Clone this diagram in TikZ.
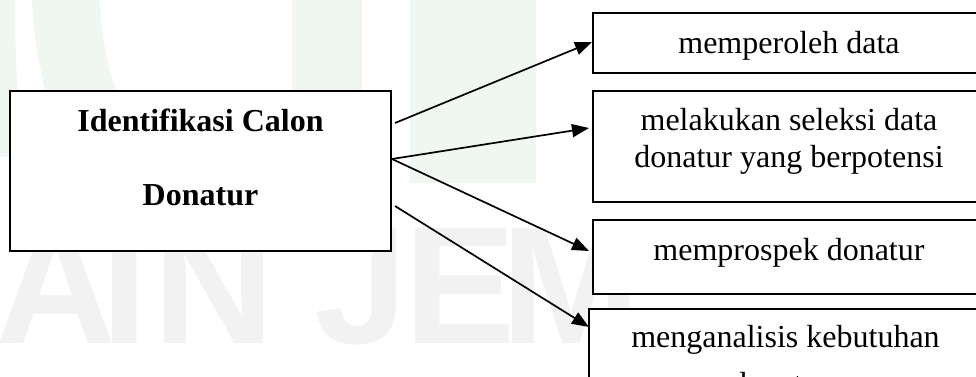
\documentclass[tikz,border=0pt]{standalone}
\usepackage{fontspec}
\setmainfont{Liberation Serif}
\newfontfamily\wmfont{Liberation Sans}
\usetikzlibrary{arrows.meta,fit}
\definecolor{wmgreen}{RGB}{239,247,240}
\definecolor{wmgray}{RGB}{242,242,242}
\tikzset{
  box/.style={draw=black, line width=1.1pt, fill=white, inner sep=0pt},
  txt/.style={anchor=base, inner sep=0pt, font=\fontsize{16pt}{18.5pt}\selectfont},
  btxt/.style={anchor=base, inner sep=0pt, font=\fontsize{16pt}{18.5pt}\selectfont\bfseries},
  conn/.style={line width=0.85pt, -{Triangle[length=8.5pt,width=6.5pt]}},
  wmletter/.style={anchor=base west, inner sep=0pt, text=wmgray, font=\wmfont\bfseries\fontsize{83.8pt}{84pt}\selectfont},
}
\begin{document}
\begin{tikzpicture}[x=0.5pt,y=-0.5pt]
\useasboundingbox (0,0) rectangle (976,376);
\clip (0,0) rectangle (976,376);
\fill[white] (0,0) rectangle (976,376);
% faint watermark
\fill[wmgreen] (0,0) -- (15,0) .. controls (15,60) and (18,120) .. (24,157) -- (0,157) -- cycle;
\fill[wmgreen] (32,0) -- (100,0) .. controls (102,40) and (108,70) .. (118,95) -- (46,95) .. controls (38,60) and (33,30) .. (32,0) -- cycle;
\fill[wmgreen] (292,0) rectangle (362,183);
\fill[wmgreen] (410,0) rectangle (536,183);
\node[wmletter] (wA) at (-5,343) {A};
\node[wmletter] (wI) at (101,343) {I};
\node[wmletter] (wN) at (153,343) {N};
\node[wmletter] (wJ) at (314,343) {J};
\node[wmletter] (wE) at (404,343) {E};
\node[wmletter] (wM) at (501,343) {M};
% boxes
\node[box, fit={(10,91) (391,251)}] (src) {};
\node[box, fit={(593,13) (985,73)}] (b1) {};
\node[box, fit={(593,91) (985,202)}] (b2) {};
\node[box, fit={(593,220) (985,294)}] (b3) {};
\node[box, fit={(589,309) (982,430)}] (b4) {};
% texts
\node[btxt] (s1) at (200.5,131) {Identifikasi Calon};
\node[btxt] (s2) at (200.5,205) {Donatur};
\node[txt] (t1) at (789,53) {memperoleh data};
\node[txt] (t2a) at (789,130) {melakukan seleksi data};
\node[txt] (t2b) at (789,167) {donatur yang berpotensi};
\node[txt] (t3) at (789,260) {memprospek donatur};
\node[txt] (t4a) at (785.5,347) {menganalisis kebutuhan};
\node[txt] (t4b) at (780,394) {donatur};
% connectors
\coordinate (o1) at (395,123);
\coordinate (o2) at (392,159);
\coordinate (o4) at (395,206);
\coordinate (e1) at (592,42);
\coordinate (e2) at (589,128);
\coordinate (e3) at (589,251);
\coordinate (e4) at (589,327);
\draw[conn] (o1) -- (e1);
\draw[conn] (o2) -- (e2);
\draw[conn] (o2) -- (e3);
\draw[conn] (o4) -- (e4);
\end{tikzpicture}
\end{document}
